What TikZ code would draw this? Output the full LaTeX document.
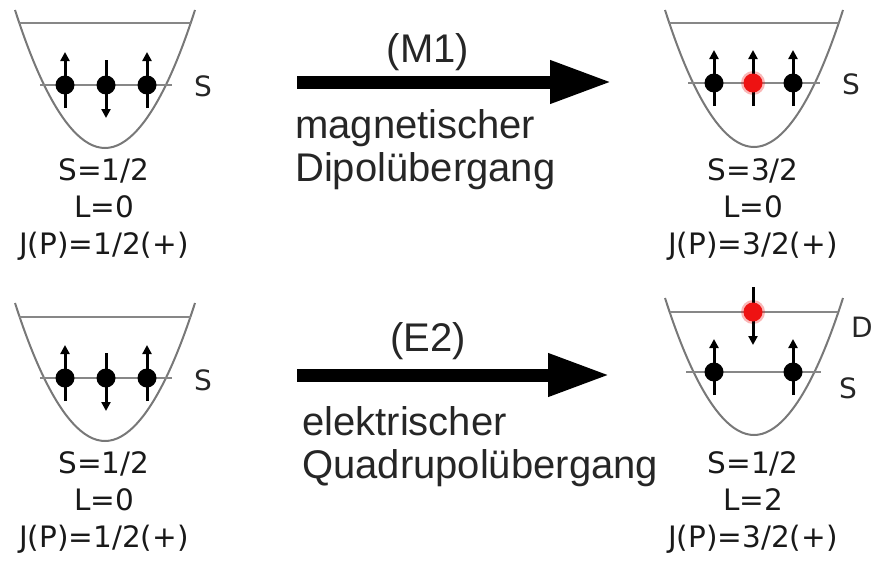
\documentclass[tikz,border=0pt]{standalone}
\usepackage{fontspec}
\setmainfont{Liberation Sans}
\newfontfamily\qnfont{DejaVu Sans}
\usetikzlibrary{arrows.meta}

\begin{document}
\begin{tikzpicture}[x=1pt,y=-1pt]
\useasboundingbox (0,0) rectangle (874,562);

\definecolor{wallgray}{RGB}{120,120,120}
\definecolor{levelgray}{RGB}{135,135,135}
\definecolor{spinred}{RGB}{238,18,18}

\tikzset{
  wall/.style={wallgray,line width=2pt},
  level/.style={levelgray,line width=2.5pt},
  spin/.style={black,line width=3pt,-{Triangle[length=9pt,width=9pt]}},
  bigarrow/.style={black,line width=13pt,-{Triangle[length=62pt,width=40pt]}},
  qnums/.style={font=\qnfont\fontsize{29.5}{37}\selectfont,align=center,text=black!90},
  shell/.style={font=\qnfont\fontsize{28}{30}\selectfont,anchor=west,inner sep=0pt,text=black!85},
  trans/.style={font=\fontsize{40}{44}\selectfont,text=black!85},
  descr/.style={font=\fontsize{40}{43}\selectfont,align=left,anchor=west,inner sep=0pt,text=black!85}
}

\newcommand{\spinup}[3]{
  \draw[spin] (#1,#2+23) -- (#1,#2-33);
  \fill[#3] (#1,#2) circle (9.5);
}
\newcommand{\spindown}[3]{
  \draw[spin] (#1,#2-25) -- (#1,#2+33);
  \fill[#3] (#1,#2) circle (9.5);
}

% top left: ground state
\draw[wall] (15,10) parabola bend (105,148) (195,10);
\draw[level] (19,23) -- (191,23);
\draw[level] (40,85) -- (172,85);
\spinup{65}{85}{black}
\spindown{106}{85}{black}
\spinup{147}{85}{black}
\node[shell] (tlS) at (194,86) {S};
\node[qnums] (tlqn) at (104,210) {S=1/2\\L=0\\J(P)=1/2(+)};

% top right: M1
\draw[wall] (665,10) parabola bend (754,147) (843,10);
\draw[level] (669,23) -- (839,23);
\draw[level] (688,83) -- (820,83);
\spinup{714}{83}{black}
\fill[spinred,opacity=0.3] (753,83) circle (12);
\spinup{753}{83}{spinred}
\spinup{793}{83}{black}
\node[shell] (trS) at (842,84) {S};
\node[qnums] (trqn) at (753,210) {S=3/2\\L=0\\J(P)=3/2(+)};

% bottom left: ground state
\draw[wall] (15,303) parabola bend (105,441) (195,303);
\draw[level] (19,317) -- (191,317);
\draw[level] (40,378) -- (172,378);
\spinup{65}{378}{black}
\spindown{106}{378}{black}
\spinup{147}{378}{black}
\node[shell] (blS) at (194,380) {S};
\node[qnums] (blqn) at (104,502) {S=1/2\\L=0\\J(P)=1/2(+)};

% bottom right: E2
\draw[wall] (665,298) parabola bend (754,435) (843,298);
\draw[level] (670,312) -- (838,312);
\draw[level] (686,372) -- (821,372);
\spinup{714}{372}{black}
\spinup{793}{372}{black}
\fill[spinred,opacity=0.3] (753,312) circle (12);
\spindown{753}{312}{spinred}
\node[shell] (brD) at (851,327) {D};
\node[shell] (brS) at (839,388) {S};
\node[qnums] (brqn) at (753,502) {S=1/2\\L=2\\J(P)=3/2(+)};

% transitions
\coordinate (m1tail) at (297,82);
\coordinate (m1head) at (612,82);
\draw[bigarrow] (m1tail) -- (m1head);
\node[trans] (m1) at (428,52) {(M1)};
\node[descr] (m1text) at (295,150) {magnetischer\\Dipolübergang};

\coordinate (e2tail) at (297,375);
\coordinate (e2head) at (610,375);
\draw[bigarrow] (e2tail) -- (e2head);
\node[trans] (e2) at (428,341) {(E2)};
\node[descr] (e2text) at (302,447) {elektrischer\\Quadrupolübergang};

\end{tikzpicture}
\end{document}
